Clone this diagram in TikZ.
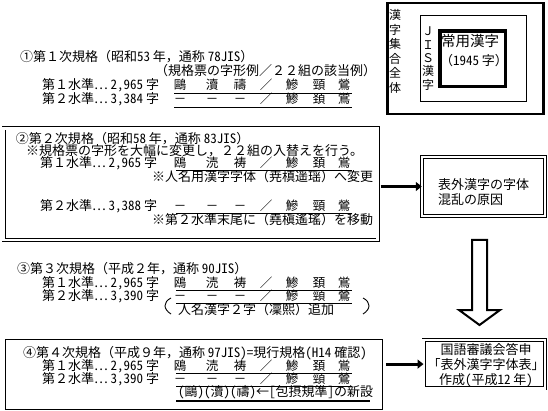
\documentclass[tikz,border=0pt]{standalone}
\usepackage{fontspec}
\setmainfont{Noto Sans CJK JP}
\newfontfamily\hw{Noto Sans CJK JP}[RawFeature=+hwid]
\usetikzlibrary{arrows.meta}
\newcommand\fsA{\fontsize{13}{15}\selectfont}
\newcommand\drow[8]{%
  \node[dc] (#1a) at (180,#2) {#3};
  \node[dc] (#1b) at (212,#2) {#4};
  \node[dc] (#1c) at (240,#2) {#5};
  \node[dc] (#1d) at (266,#2) {／};
  \node[dc] (#1e) at (292,#2) {#6};
  \node[dc] (#1f) at (319,#2) {#7};
  \node[dc] (#1g) at (344,#2) {#8};
}
\begin{document}
\begin{tikzpicture}[x=1pt,y=-1pt,
  every node/.style={inner sep=0pt, outer sep=0pt, font=\fsA},
  one/.style={text height=9pt, text depth=1.5pt},
  dc/.style={one, font=\fontsize{12.5}{15}\selectfont},
  lt/.style={one, anchor=west},
  rt/.style={one, anchor=east},
  uline/.style={line width=0.9pt},
  dbox/.style={draw, double, double distance=2.2pt, line width=0.9pt},
  sbox/.style={draw, line width=0.9pt},
  conn/.style={line width=2.8pt, -{Triangle[length=6pt,width=9pt]}},
]
\useasboundingbox[fill=white] (0,0) rectangle (548,411);

% ---- top right set diagram
\draw[line width=2.5pt] (387.3,2.8) rectangle (543.7,113.8);
\draw[line width=1pt] (420,16) rectangle (526.7,101.7);
\draw[line width=3.3pt] (440,31) rectangle (505.5,86.5);
\node[align=center, font=\fontsize{12}{14.6}\selectfont] (set) at (395,51.5) {漢\\字\\集\\合\\全\\体};
\node[align=center, font=\fontsize{12}{13.3}\selectfont] (jis) at (428,58.5) {Ｊ\\Ｉ\\Ｓ\\漢\\字};
\node[lt, font=\fontsize{14.5}{16}\selectfont] (joyo) at (441,43) {常用漢字};
\node[lt, font=\fontsize{13}{16}\selectfont] (joyon) at (440,62) {（{\hw 1945} 字）};

% ---- section 1
\node[lt] (t1) at (20,58) {①第１次規格（昭和{\hw 53} 年，通称 {\hw 78JIS}）};
\node[lt] (t1s) at (155,72) {（規格票の字形例／２２組の該当例）};
\node[lt] (l11) at (42,86) {第１水準⋯ {\hw 2,965} 字};
\drow{a}{86}{鷗}{瀆}{禱}{鰺}{頸}{鶯}
\draw[uline] (174,93) -- (352,93);
\node[lt] (l12) at (42,100) {第２水準⋯ {\hw 3,384} 字};
\drow{b}{100}{－}{－}{－}{鯵}{頚}{鴬}
\draw[uline] (174,107) -- (352,107);

% ---- section 2
\node[dbox, minimum width=374pt, minimum height=111.5pt] (box2) at (190.5,184.25) {};
\node[lt] (t2) at (16,140) {②第２次規格（昭和{\hw 58} 年，通称 {\hw 83JIS}）};
\node[lt] (n2) at (26,152) {※規格票の字形を大幅に変更し，２２組の入替えを行う。};
\node[lt] (l21) at (40,164) {第１水準⋯ {\hw 2,965} 字};
\drow{c}{164}{鴎}{涜}{祷}{鯵}{頚}{鴬}
\draw[uline] (176,170.5) -- (352,170.5);
\node[rt] (n21) at (373,177.5) {※人名用漢字字体（尭槙遥瑶）へ変更};
\node[lt] (l22) at (40,207) {第２水準⋯ {\hw 3,388} 字};
\drow{d}{207}{－}{－}{－}{鰺}{頸}{鶯}
\draw[uline] (176,213.5) -- (352,213.5);
\node[rt] (n22) at (373,220.5) {※第２水準末尾に（堯槇遙瑤）を移動};

% ---- section 3
\node[lt] (t3) at (17,270) {③第３次規格（平成２年，通称 {\hw 90JIS}）};
\node[lt] (l31) at (42,284) {第１水準⋯ {\hw 2,965} 字};
\drow{e}{284}{鴎}{涜}{祷}{鯵}{頚}{鴬}
\draw[uline] (176,290.5) -- (352,290.5);
\node[lt] (l32) at (42,297) {第２水準⋯ {\hw 3,390} 字};
\drow{f}{297}{－}{－}{－}{鰺}{頸}{鶯}
\draw[uline] (176,303.5) -- (352,303.5);
\node[lt] (n3) at (178,311) {人名漢字２字（凜熙）追加};
\draw[line width=0.9pt] (171,298) .. controls (163,302) and (163,309) .. (171,314);
\draw[line width=0.9pt] (363,298) .. controls (371,302) and (371,309) .. (363,314);

% ---- section 4
\node[sbox, minimum width=377pt, minimum height=70pt] (box4) at (193.5,374) {};
\node[lt] (t4) at (23,354) {④第４次規格（平成９年，通称 {\hw 97JIS)=}現行規格{\hw (H14} 確認{\hw )}};
\node[lt] (l41) at (42,367) {第１水準⋯ {\hw 2,965} 字};
\drow{g}{367}{鴎}{涜}{祷}{鯵}{頚}{鴬}
\draw[uline] (176,373.5) -- (352,373.5);
\node[lt] (l42) at (42,380) {第２水準⋯ {\hw 3,390} 字};
\drow{h}{380}{－}{－}{－}{鰺}{頸}{鶯}
\draw[uline] (176,386.5) -- (352,386.5);
\node[lt] (n4) at (178,393) {{\hw (}鷗{\hw )(}瀆{\hw )(}禱{\hw )}←{\hw [}包摂規準{\hw ]}の新設};
\draw[line width=2pt] (176,401) -- (370,401);

% ---- right boxes
\node[dbox, minimum width=123.5pt, minimum height=59.5pt] (cause) at (483.5,186.5) {};
\node[anchor=west, align=left] (causet) at (438,192.5) {表外漢字の字体\\混乱の原因};
\node[dbox, minimum width=121.5pt, minimum height=48.75pt] (report) at (484.25,364.1) {};
\node[align=center] (reportt) at (486,365) {国語審議会答申\\「表外漢字字体表」\\作成{\hw (}平成{\hw 12} 年{\hw )}};

% ---- connectors
\draw[conn, shorten <=3pt] (box2.east |- cause.west) -- (cause.west);
\draw[conn, shorten <=4pt] (box4.east |- report.west) -- (report.west);

% ---- hollow down arrow
\draw[line width=2pt, line join=miter] (472,240) -- (487,240) -- (487,310) -- (500,310) -- (479.5,325) -- (459,310) -- (472,310) -- cycle;
\end{tikzpicture}
\end{document}
